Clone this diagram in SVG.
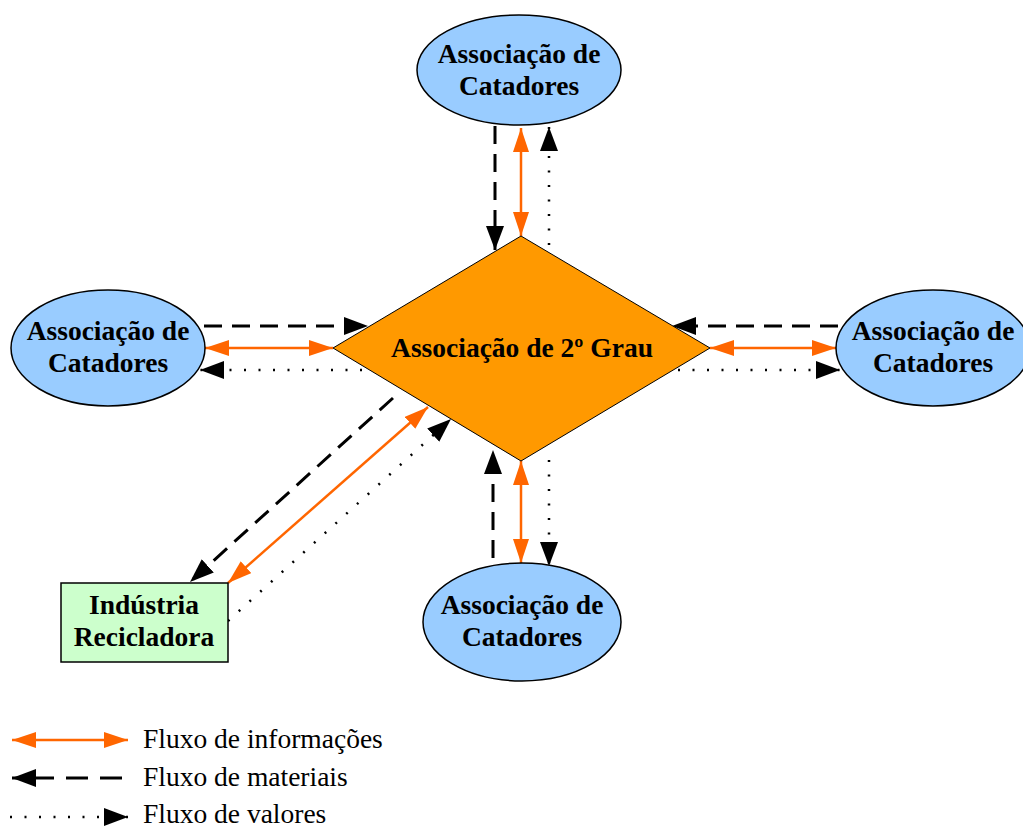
<svg xmlns="http://www.w3.org/2000/svg" width="1023" height="827" viewBox="0 0 1023 827">
  <style>
    .assoc { fill: #99ccff; stroke: #000; stroke-width: 1.5; }
    .hub { fill: #ff9900; stroke: #000; stroke-width: 1; }
    .ind { fill: #ccffcc; stroke: #000; stroke-width: 1.5; }
    .lbl { font-family: "Liberation Serif", "Times New Roman", serif; font-size: 27.5px; font-weight: bold; text-anchor: middle; fill: #000; }
    .leg { font-family: "Liberation Serif", "Times New Roman", serif; font-size: 27.5px; fill: #000; }
    .info { stroke: #ff6600; stroke-width: 2.5; fill: none; marker-start: url(#ao); marker-end: url(#ao); }
    .mat { stroke: #000; stroke-width: 3; stroke-dasharray: 18 10; fill: none; marker-end: url(#ab); }
    .val { stroke: #000; stroke-width: 2.5; stroke-dasharray: 2 12.5; fill: none; marker-end: url(#ab); }
  </style>
  <defs>
    <marker id="ao" markerUnits="userSpaceOnUse" markerWidth="24" markerHeight="16" refX="24" refY="8" orient="auto-start-reverse">
      <path d="M0,0 L24,8 L0,16 z" fill="#ff6600"/>
    </marker>
    <marker id="ab" markerUnits="userSpaceOnUse" markerWidth="24" markerHeight="18" refX="24" refY="9" orient="auto">
      <path d="M0,0 L24,9 L0,18 z" fill="#000"/>
    </marker>
  </defs>

  <g id="connectors">
    <!-- top -->
    <line class="mat" x1="495" y1="126" x2="495" y2="250"/>
    <line class="info" x1="521" y1="128" x2="521" y2="236"/>
    <line class="val" x1="549" y1="245" x2="549" y2="127"/>
    <!-- left -->
    <line class="mat" x1="204" y1="326" x2="368" y2="326"/>
    <line class="info" x1="205" y1="348" x2="333" y2="348"/>
    <line class="val" x1="362" y1="370" x2="200" y2="370"/>
    <!-- right -->
    <line class="mat" x1="838" y1="326" x2="672" y2="326"/>
    <line class="info" x1="710" y1="348" x2="836" y2="348"/>
    <line class="val" x1="678" y1="370" x2="840" y2="370"/>
    <!-- bottom -->
    <line class="mat" x1="493" y1="558" x2="493" y2="450"/>
    <line class="info" x1="521" y1="461" x2="521" y2="563"/>
    <line class="val" x1="549" y1="460" x2="549" y2="566"/>
    <!-- industry -->
    <line class="mat" x1="393" y1="398" x2="190" y2="582"/>
    <line class="info" x1="428" y1="407" x2="228" y2="583"/>
    <line class="val" x1="228" y1="621" x2="451" y2="419"/>
  </g>

  <g id="hub">
    <polygon class="hub" points="521,236 710,348 521,461 333,348"/>
    <text class="lbl" x="522" y="357">Associação de 2º Grau</text>
  </g>

  <g id="assoc-top">
    <ellipse class="assoc" cx="519" cy="70" rx="102" ry="55"/>
    <text class="lbl" x="519" y="63">Associação de</text>
    <text class="lbl" x="519" y="95">Catadores</text>
  </g>

  <g id="assoc-left">
    <ellipse class="assoc" cx="108" cy="348" rx="97" ry="58"/>
    <text class="lbl" x="108" y="340">Associação de</text>
    <text class="lbl" x="108" y="372">Catadores</text>
  </g>

  <g id="assoc-right">
    <ellipse class="assoc" cx="933" cy="348" rx="97" ry="58"/>
    <text class="lbl" x="933" y="340">Associação de</text>
    <text class="lbl" x="933" y="372">Catadores</text>
  </g>

  <g id="assoc-bottom">
    <ellipse class="assoc" cx="522" cy="622" rx="99" ry="59"/>
    <text class="lbl" x="522" y="614">Associação de</text>
    <text class="lbl" x="522" y="646">Catadores</text>
  </g>

  <g id="industria">
    <rect class="ind" x="61" y="583" width="167" height="79"/>
    <text class="lbl" x="144" y="614">Indústria</text>
    <text class="lbl" x="144" y="646">Recicladora</text>
  </g>

  <g id="legend">
    <line class="info" x1="12" y1="740" x2="128" y2="740"/>
    <line class="mat" x1="122" y1="778" x2="12" y2="778" style="stroke-dasharray: 22 12"/>
    <line class="val" x1="10" y1="817" x2="128" y2="817"/>
    <text class="leg" x="143" y="748">Fluxo de informações</text>
    <text class="leg" x="143" y="786">Fluxo de materiais</text>
    <text class="leg" x="143" y="823">Fluxo de valores</text>
  </g>
</svg>
